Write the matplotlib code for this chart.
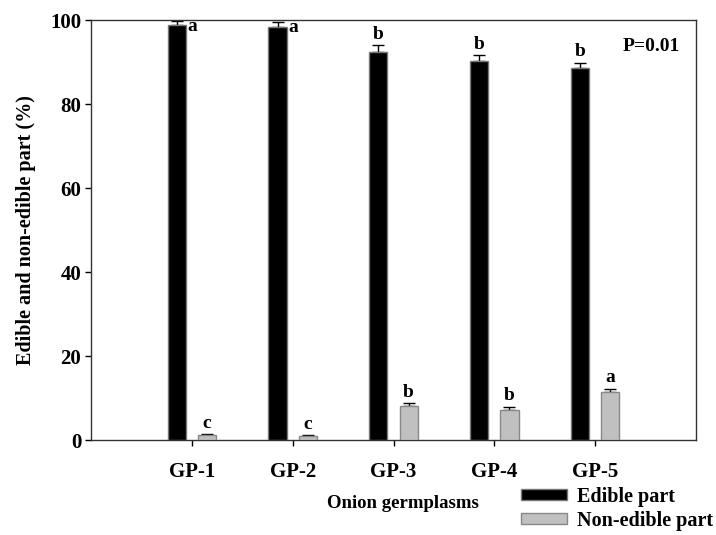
import numpy as np
import matplotlib
matplotlib.use("Agg")
import matplotlib.pyplot as plt

groups = ["GP-1", "GP-2", "GP-3", "GP-4", "GP-5"]
edible = [98.8, 98.4, 92.5, 90.2, 88.5]
edible_err = [1.0, 1.2, 1.5, 1.4, 1.3]
edible_letters = ["a", "a", "b", "b", "b"]
nonedible = [1.2, 0.95, 8.1, 7.1, 11.4]
nonedible_err = [0.2, 0.2, 0.7, 0.8, 0.8]
nonedible_letters = ["c", "c", "b", "b", "a"]

plt.rcParams['font.family'] = ['Liberation Serif', 'DejaVu Serif']
plt.rcParams['font.weight'] = 'bold'

fig = plt.figure(figsize=(7.16, 5.35), dpi=100)
ax = fig.add_axes([91/716, 1-440/535, (696-91)/716, (440-20)/535])

x = np.arange(len(groups))
w = 0.18
off = 0.15

ax.bar(x - off, edible, w, color='black', edgecolor='#777777', linewidth=1, zorder=3)
ax.bar(x + off, nonedible, w, color='#c0c0c0', edgecolor='#888888', linewidth=1, zorder=3)
ax.errorbar(x - off, edible, yerr=[np.zeros(5), edible_err], fmt='none',
            ecolor='black', elinewidth=1, capsize=4, capthick=1, zorder=2)
ax.errorbar(x + off, nonedible, yerr=[np.zeros(5), nonedible_err], fmt='none',
            ecolor='black', elinewidth=1, capsize=4, capthick=1, zorder=2)

# significance letters
for i in range(len(groups)):
    top = edible[i] + edible_err[i]
    if top > 97:
        ax.text(x[i] - off + w/2 + 0.02, edible[i] - 0.3, edible_letters[i], ha='left',
                va='center', fontsize=14, fontweight='bold')
    else:
        ax.text(x[i] - off, top + 0.6, edible_letters[i], ha='center', va='bottom',
                fontsize=14, fontweight='bold')
    ax.text(x[i] + off, nonedible[i] + nonedible_err[i] + 0.6, nonedible_letters[i],
            ha='center', va='bottom', fontsize=14, fontweight='bold')

ax.text(4.56, 93.6, "P=0.01", ha='center', va='center', fontsize=14, fontweight='bold')

ax.set_xlim(-1.0, 5.0)
ax.set_ylim(0, 100)
ax.set_xticks(x)
ax.set_xticklabels(groups, fontsize=15, fontweight='bold')
ax.set_yticks([0, 20, 40, 60, 80, 100])
ax.tick_params(axis='both', direction='out', length=4, width=1, labelsize=15)
ax.tick_params(axis='x', pad=12)
ax.tick_params(axis='y', pad=3)
ax.set_ylabel("Edible and non-edible part (%)", fontsize=14.5, fontweight='bold', labelpad=10)
for s in ax.spines.values():
    s.set_linewidth(1)
    s.set_color('#333333')

fig.text(403/716, 1-503/535, "Onion germplasms", ha='center', va='center',
         fontsize=13.5, fontweight='bold')

handles = [plt.Rectangle((0, 0), 1, 1, facecolor='black', edgecolor='#777777'),
           plt.Rectangle((0, 0), 1, 1, facecolor='#c0c0c0', edgecolor='#888888')]
fig.legend(handles, ["Edible part", "Non-edible part"], loc='upper left',
           bbox_to_anchor=(521/716, 1-487/535), frameon=False, fontsize=14.5,
           handlelength=2.3, handleheight=0.45, handletextpad=0.5, labelspacing=0.2,
           borderpad=0, borderaxespad=0)

fig.savefig("out.png", dpi=100)
